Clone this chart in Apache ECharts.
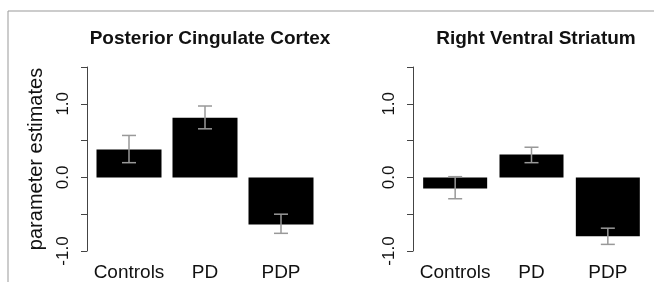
<!DOCTYPE html>
<html>
<head>
<meta charset="utf-8">
<script src="https://cdn.jsdelivr.net/npm/echarts@6/dist/echarts.min.js"></script>
<style>
  html, body { margin: 0; padding: 0; background: #fff; }
  #chart { width: 654px; height: 282px; }
</style>
</head>
<body>
<div id="chart"></div>
<script>
// 数据
var groups = ['Controls', 'PD', 'PDP'];
var titles = ['Posterior Cingulate Cortex', 'Right Ventral Striatum'];
var tickLabels = ['-1.0', '0.0', '1.0'];

// 左图: Posterior Cingulate Cortex
var pccMean = [0.38, 0.81, -0.64];
var pccLow = [0.20, 0.66, -0.76];
var pccHigh = [0.57, 0.97, -0.50];

// 右图: Right Ventral Striatum
var rvsMean = [-0.15, 0.31, -0.80];
var rvsLow = [-0.29, 0.20, -0.91];
var rvsHigh = [0.01, 0.41, -0.69];

var font = 'Liberation Sans, Arial, sans-serif';

function errData(low, high) {
    var out = [];
    for (var i = 0; i < low.length; i++) {
        out.push([i, low[i], high[i]]);
    }
    return out;
}

function renderErr(params, api) {
    var x = api.value(0);
    var lo = api.coord([x, api.value(1)]);
    var hi = api.coord([x, api.value(2)]);
    var w = 7;
    var style = { stroke: '#999', lineWidth: 1.5 };
    return {
        type: 'group',
        children: [
            { type: 'line', shape: { x1: lo[0], y1: lo[1], x2: hi[0], y2: hi[1] }, style: style },
            { type: 'line', shape: { x1: lo[0] - w, y1: lo[1], x2: lo[0] + w, y2: lo[1] }, style: style },
            { type: 'line', shape: { x1: hi[0] - w, y1: hi[1], x2: hi[0] + w, y2: hi[1] }, style: style }
        ]
    };
}

function yAxisOf(idx, name) {
    return {
        type: 'value',
        gridIndex: idx,
        min: -1,
        max: 1.5,
        interval: 0.5,
        offset: 4,
        name: name,
        nameLocation: 'middle',
        nameGap: 41,
        nameTextStyle: { fontSize: 20, color: '#111', fontFamily: font },
        splitLine: { show: false },
        axisLine: { show: true, lineStyle: { color: '#444', width: 1 } },
        axisTick: { show: true, length: 6, lineStyle: { color: '#444' } },
        axisLabel: {
            rotate: 90,
            margin: 15,
            fontSize: 17,
            color: '#111',
            fontFamily: font,
            formatter: function (v) {
                var s = v.toFixed(1);
                return tickLabels.indexOf(s) >= 0 ? s : '';
            }
        }
    };
}

function xAxisOf(idx) {
    return {
        type: 'category',
        gridIndex: idx,
        data: groups,
        axisLine: { show: false },
        axisTick: { show: false },
        axisLabel: { interval: 0, fontSize: 19, color: '#111', fontFamily: font, margin: 12 }
    };
}

var myChart = echarts.init(document.getElementById('chart'));
var option = {
    animation: false,
    backgroundColor: '#fff',
    title: [
        { text: titles[0], left: 205, top: 24, textAlign: 'center',
          textStyle: { fontSize: 19, fontWeight: 'bold', color: '#111', fontFamily: font } },
        { text: titles[1], left: 531, top: 24, textAlign: 'center',
          textStyle: { fontSize: 19, fontWeight: 'bold', color: '#111', fontFamily: font } }
    ],
    graphic: [
        { type: 'polyline', silent: true,
          shape: { points: [[8, 282], [8, 11], [654, 11]] },
          style: { stroke: '#999', lineWidth: 1, fill: null } }
    ],
    grid: [
        { left: 91, top: 67, width: 228, height: 185 },
        { left: 417, top: 67, width: 229, height: 185 }
    ],
    xAxis: [xAxisOf(0), xAxisOf(1)],
    yAxis: [yAxisOf(0, 'parameter estimates'), yAxisOf(1, '')],
    series: [
        { type: 'bar', xAxisIndex: 0, yAxisIndex: 0, data: pccMean, barWidth: 65,
          itemStyle: { color: '#000' } },
        { type: 'custom', xAxisIndex: 0, yAxisIndex: 0, data: errData(pccLow, pccHigh),
          renderItem: renderErr, z: 5 },
        { type: 'bar', xAxisIndex: 1, yAxisIndex: 1, data: rvsMean, barWidth: 64,
          itemStyle: { color: '#000' } },
        { type: 'custom', xAxisIndex: 1, yAxisIndex: 1, data: errData(rvsLow, rvsHigh),
          renderItem: renderErr, z: 5 }
    ]
};
myChart.setOption(option);
</script>
</body>
</html>
